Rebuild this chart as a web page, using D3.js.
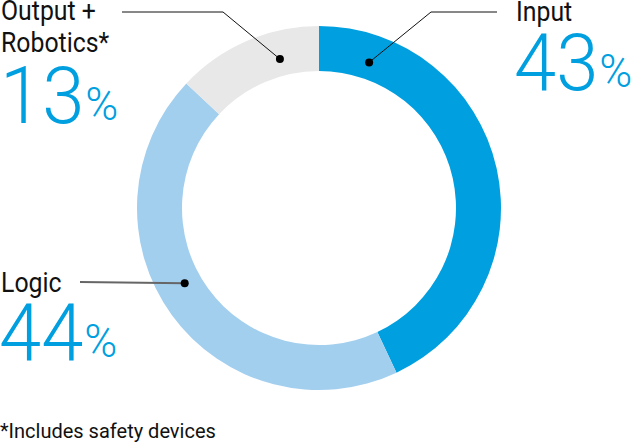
<!DOCTYPE html>
<html><head><meta charset="utf-8">
<script src="https://cdn.jsdelivr.net/npm/d3@7"></script>
<style>body{margin:0;background:#fff}svg{display:block}</style>
</head><body>
<svg id="c" width="631" height="445"></svg>
<script>
const categories = ["Input", "Logic", "Output +\nRobotics*"];
const values = [43, 44, 13];
const colors = ["#009fdf", "#a3cfef", "#e8e8e8"];
const leaderAngles = [19, 240.7, 345.3]; // degrees, clockwise from top
const footnote = "*Includes safety devices";

const svg = d3.select("#c");
const cx = 319, cy = 208, R = 182, r = 137;
const g = svg.append("g").attr("transform", `translate(${cx},${cy})`);
const pie = d3.pie().sort(null).value(d => d)(values);
const arc = d3.arc().innerRadius(r).outerRadius(R);
g.selectAll("path").data(pie).join("path")
  .attr("d", arc).attr("fill", (d, i) => colors[i]);

const FONT = "Roboto, sans-serif";
// leaders
const dotR = 154;
const leaderDefs = [
  {elbow: [431, 12], end: [497, 12]},
  {elbow: null, end: [80, 282]},
  {elbow: [223, 12], end: [122, 12]}
];
leaderAngles.forEach((a, i) => {
  const p = d3.pointRadial(a * Math.PI / 180, dotR);
  const x = cx + p[0], y = cy + p[1];
  const L = leaderDefs[i];
  const pts = [[x, y]];
  if (L.elbow) pts.push(L.elbow);
  pts.push(L.end);
  svg.append("path").attr("d", d3.line()(pts)).attr("fill", "none")
    .attr("stroke", i === 1 ? "#666" : "#111").attr("stroke-width", i === 1 ? 2 : 1);
  svg.append("circle").attr("cx", x).attr("cy", y).attr("r", 4).attr("fill", "#000");
});

// labels
const labelPos = [
  {x: 516, y: 21, px: 514, py: 90},
  {x: 1, y: 292, px: -1, py: 360},
  {x: 1, y: 20, px: 0, py: 123}
];
categories.forEach((c, i) => {
  const lp = labelPos[i];
  const t = svg.append("text").attr("font-family", FONT).attr("font-size", 27)
    .attr("fill", "#111").attr("transform", `translate(${lp.x},${lp.y}) scale(0.92,1)`);
  c.split("\n").forEach((line, k) => {
    t.append("tspan").attr("x", 0).attr("y", k * 32).text(line);
  });
  const p = svg.append("text").attr("font-family", FONT).attr("font-weight", 300)
    .attr("fill", "#009fdf").attr("transform", `translate(${lp.px},${lp.py}) scale(0.95,1)`);
  p.append("tspan").attr("font-size", 80).text(values[i]);
  p.append("tspan").attr("font-size", 47).attr("dx", 1).attr("dy", -3).text("%");
});

svg.append("text").attr("font-family", FONT).attr("font-size", 20).attr("fill", "#111")
  .attr("transform", "translate(0,438)").text(footnote);
</script>
</body></html>
